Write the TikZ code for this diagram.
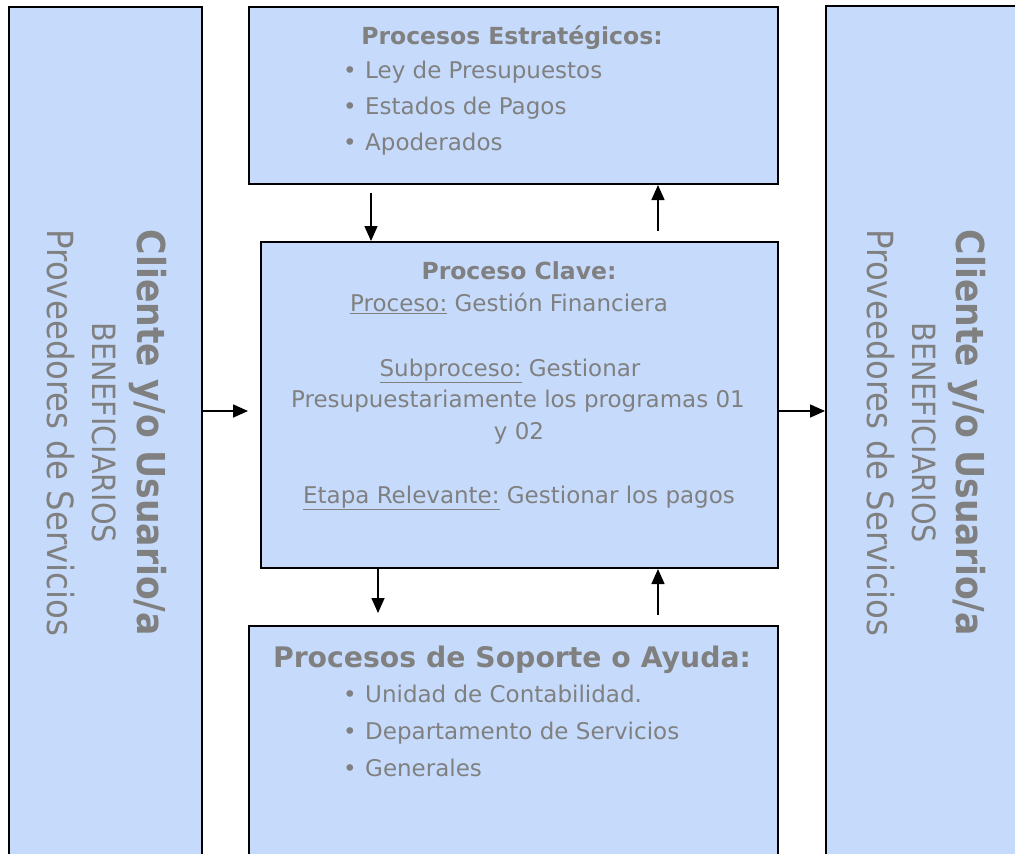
\documentclass[tikz,border=0pt]{standalone}
\usepackage{fontspec}
\setmainfont{DejaVu Sans}
\newfontfamily\narrowfont{DejaVu Sans Condensed}
\usetikzlibrary{arrows.meta}
\definecolor{boxfill}{RGB}{198,219,252}
\definecolor{txtgrey}{RGB}{128,128,128}
\newcommand{\bul}{\makebox[22pt][l]{\textbullet}}
\begin{document}
\begin{tikzpicture}[x=1pt,y=-1pt,
  panel/.style={draw=black, line width=2pt, fill=boxfill, anchor=north west, inner sep=0pt},
  lbl/.style={text=txtgrey, inner sep=0pt},
  flow/.style={-{Triangle[length=15pt,width=13pt]}, line width=1.6pt},
  body/.style={lbl, font=\fontsize{23}{27}\selectfont},
  head/.style={lbl, font=\bfseries\fontsize{23.5}{27}\selectfont},
  side/.style={lbl, rotate=-90},
]
\useasboundingbox (0,0) rectangle (1015,854);
\fill[white] (0,0) rectangle (1015,854);

% panels
\node[panel, minimum width=193pt, minimum height=870pt] (left) at (8,6) {};
\node[panel, minimum width=220pt, minimum height=870pt] (right) at (825,5) {};
\node[panel, minimum width=529pt, minimum height=177pt] (top) at (248,6) {};
\node[panel, minimum width=517pt, minimum height=326pt] (mid) at (260,241) {};
\node[panel, minimum width=529pt, minimum height=260pt] (bot) at (248,625) {};

% strategic processes
\node[head, anchor=base] (sttl) at (512,44) {Procesos Estratégicos:};
\node[body, anchor=base west] (s1) at (343,78) {\bul Ley de Presupuestos};
\node[body, anchor=base west] (s2) at (343,114) {\bul Estados de Pagos};
\node[body, anchor=base west] (s3) at (343,150) {\bul Apoderados};

% key process
\node[head, anchor=base] (kttl) at (519,279) {Proceso Clave:};
\node[body, anchor=base] (k1) at (509,311) {\underline{Proceso:} Gestión Financiera};
\node[body, anchor=base] (k2) at (510,376) {\underline{Subproceso:} Gestionar};
\node[body, anchor=base] (k3) at (518,407) {Presupuestariamente los programas 01};
\node[body, anchor=base] (k4) at (519,439) {y 02};
\node[body, anchor=base] (k5) at (519,503) {\underline{Etapa Relevante:} Gestionar los pagos};

% support processes
\node[lbl, font=\bfseries\fontsize{28.3}{32}\selectfont, anchor=base] (bttl) at (512,667) {Procesos de Soporte o Ayuda:};
\node[body, anchor=base west] (b1) at (343,702) {\bul Unidad de Contabilidad.};
\node[body, anchor=base west] (b2) at (343,739) {\bul Departamento de Servicios};
\node[body, anchor=base west] (b3) at (343,776) {\bul Generales};

% customers, left
\node[side, font=\narrowfont\bfseries\fontsize{38.5}{42}\selectfont] (lc1) at (148,433) {Cliente y/o Usuario/a};
\node[side, font=\narrowfont\fontsize{32}{36}\selectfont] (lc2) at (104,433) {BENEFICIARIOS};
\node[side, font=\narrowfont\fontsize{36}{40}\selectfont] (lc3) at (61,433) {Proveedores de Servicios};

% customers, right
\node[side, font=\narrowfont\bfseries\fontsize{38.5}{42}\selectfont] (rc1) at (967,433) {Cliente y/o Usuario/a};
\node[side, font=\narrowfont\fontsize{32}{36}\selectfont] (rc2) at (924,433) {BENEFICIARIOS};
\node[side, font=\narrowfont\fontsize{36}{40}\selectfont] (rc3) at (881,433) {Proveedores de Servicios};

% connectors
\coordinate (a1) at (371,193);
\draw[flow] (a1) -- (a1 |- mid.north);
\coordinate (a2) at (658,231);
\draw[flow] (a2) -- (a2 |- top.south);
\coordinate (a3) at (378,613);
\draw[flow] (a3 |- mid.south) -- (a3);
\coordinate (a4) at (658,615);
\draw[flow] (a4) -- (a4 |- mid.south);
\coordinate (a5) at (248,411);
\draw[flow] (a5 -| left.east) -- (a5);
\coordinate (a6) at (777,411);
\draw[flow] (a6) -- (a6 -| right.west);
\end{tikzpicture}
\end{document}
